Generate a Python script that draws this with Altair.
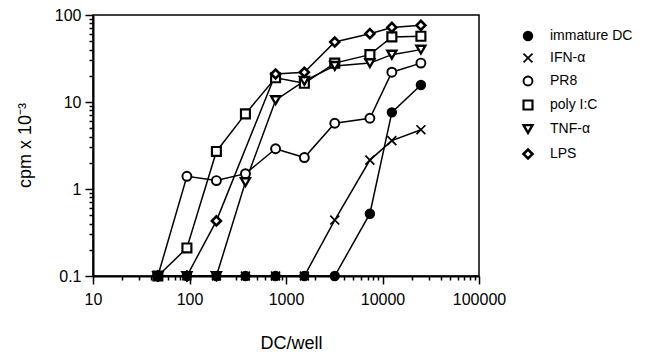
import altair as alt
import pandas as pd

# ---- data ----
dc_per_well = [47, 94, 190, 380, 780, 1550, 3200, 7400, 12500, 25000]
series_names = ["immature DC", "IFN-α", "PR8", "poly I:C", "TNF-α", "LPS"]

immature_dc = [0.1, 0.1, 0.1, 0.1, 0.1, 0.1, 0.1, 0.52, 7.6, 15.7]
ifn_alpha   = [0.1, 0.1, 0.1, 0.1, 0.1, 0.1, 0.44, 2.15, 3.6, 4.8]
pr8         = [0.1, 1.4, 1.25, 1.5, 2.9, 2.3, 5.7, 6.5, 22, 28]
poly_ic     = [0.1, 0.21, 2.7, 7.3, 19, 16.4, 28, 35, 56, 57]
tnf_alpha   = [0.1, 0.1, 0.1, 1.2, 10.5, 17.5, 26, 28, 35, 40]
lps         = [0.1, 0.1, 0.43, None, 21, 22, 49, 61, 72, 76]

x_ticks_major = [10, 100, 1000, 10000, 100000]
y_ticks_major = [0.1, 1, 10, 100]
x_ticks_minor = [m * d for d in [10, 100, 1000, 10000] for m in range(2, 10)]
y_ticks_minor = [round(m * d, 3) for d in [0.1, 1, 10] for m in range(2, 10)]

shapes = ["circle", "M-1,-1L1,1M-1,1L1,-1", "circle", "square", "triangle-down", "diamond"]
fills = ["black", "black", "white", "white", "white", "white"]
strokes = ["black"] * 6
stroke_widths = [1.5, 2.6, 1.5, 1.5, 1.5, 1.5]

# drawing order: open symbols first, the dark ones on top (as in the reference)
draw_order = ["PR8", "poly I:C", "TNF-α", "LPS", "IFN-α", "immature DC"]
series_values = dict(zip(series_names, [immature_dc, ifn_alpha, pr8, poly_ic, tnf_alpha, lps]))

rows = []
for name in draw_order:
    for xv, yv in zip(dc_per_well, series_values[name]):
        if yv is not None:
            rows.append({"series": name, "dc": xv, "cpm": yv})
df = pd.DataFrame(rows)

FONT = "Liberation Sans"
major = "abs(log(datum.value)/LN10 - round(log(datum.value)/LN10)) < 0.001"
label_expr = f"{major} ? datum.value + '' : ''"
tick_size = {"condition": {"test": major, "value": 8}, "value": 4}

x_enc = alt.X(
    "dc:Q",
    scale=alt.Scale(type="log", domain=[10, 100000], nice=False),
    axis=alt.Axis(
        values=x_ticks_major + x_ticks_minor, labelExpr=label_expr, tickSize=tick_size,
        labelFlush=False, labelOverlap=False, grid=False, labelPadding=7,
        title="DC/well", titleX=198, titleY=67, titleBaseline="middle",
        titleFontSize=18, titleFontWeight="normal",
    ),
)
y_enc = alt.Y(
    "cpm:Q",
    scale=alt.Scale(type="log", domain=[0.1, 100], nice=False),
    axis=alt.Axis(
        values=y_ticks_major + y_ticks_minor, labelExpr=label_expr, tickSize=tick_size,
        labelFlush=False, labelOverlap=False, grid=False, labelPadding=4,
        title="cpm x 10⁻³", titleX=-68, titleY=130, titleAngle=-90,
        titleAlign="center", titleBaseline="middle",
        titleFontSize=18, titleFontWeight="normal",
    ),
)

lines = alt.Chart(df).mark_line(color="black", strokeWidth=1.5).encode(
    x=x_enc, y=y_enc, detail="series:N", order="dc:Q"
)

points = alt.Chart(df).mark_point(
    opacity=1, fillOpacity=1, strokeOpacity=1, size=80
).encode(
    x=x_enc,
    y=y_enc,
    shape=alt.Shape("series:N", sort=series_names, title=None,
                    scale=alt.Scale(domain=series_names, range=shapes)),
    fill=alt.Fill("series:N", sort=series_names, title=None,
                  scale=alt.Scale(domain=series_names, range=fills)),
    stroke=alt.Stroke("series:N", sort=series_names, title=None,
                      scale=alt.Scale(domain=series_names, range=strokes)),
    strokeWidth=alt.StrokeWidth("series:N", sort=series_names, title=None,
                                scale=alt.Scale(domain=series_names, range=stroke_widths)),
)

chart = (
    alt.layer(lines, points)
    .properties(
        width=386, height=261,
        autosize=alt.AutoSizeParams(type="none"),
        padding={"left": 85, "top": 7, "right": 160, "bottom": 76},
        background="white",
    )
    .configure_view(stroke="black", strokeWidth=1.5)
    .configure_axis(
        labelFont=FONT, titleFont=FONT, labelFontSize=16, labelColor="black",
        titleColor="black", domainColor="black", domainWidth=2,
        tickColor="black", tickWidth=1.5,
    )
    .configure_legend(
        orient="none", legendX=428, legendY=14,
        labelFontSize=14, labelFont=FONT, labelColor="black",
        symbolSize=80, labelOffset=15,
        rowPadding=6, padding=0, labelLimit=200,
    )
)

chart.save("out.html", embed_options={"renderer": "svg", "actions": False})
